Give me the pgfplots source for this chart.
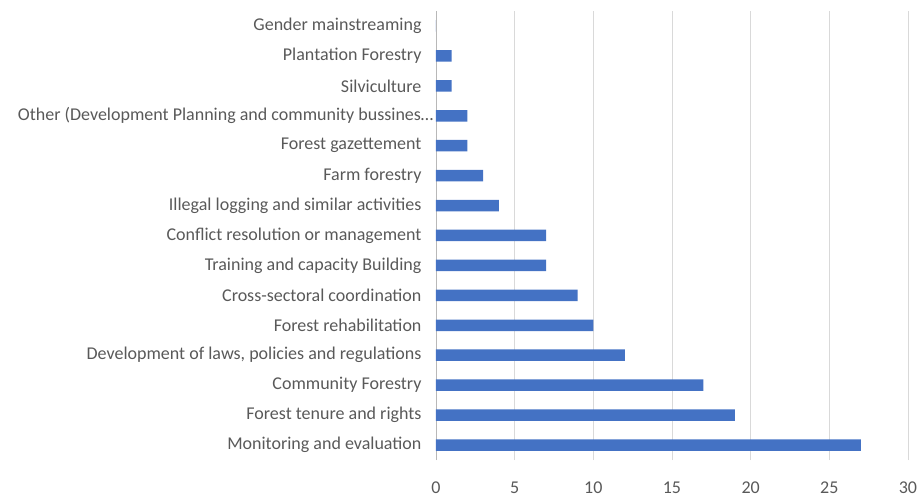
\documentclass[border=0pt]{standalone}
\usepackage{pgfplots}
\pgfplotsset{compat=1.18}
\usepackage{fontspec}
\setmainfont{Carlito}
\definecolor{barblue}{HTML}{4472C4}
\definecolor{txt}{HTML}{595959}
\definecolor{gridc}{HTML}{D9D9D9}
\begin{document}
\begin{tikzpicture}
\begin{axis}[
  scale only axis,
  width=472bp, height=449bp,
  xmin=0, xmax=30, ymin=-0.5, ymax=14.5,
  xtick={0,5,...,30},
  ytick={0,...,14},
  yticklabels={
    Monitoring and evaluation,
    Forest tenure and rights,
    Community Forestry,
    {Development of laws, policies and regulations},
    Forest rehabilitation,
    Cross-sectoral coordination\ ,
    Training and capacity Building,
    Conflict resolution or management\ ,
    Illegal logging and similar activities,
    Farm forestry,
    Forest gazettement\ ,
    Other (Development Planning and community bussines…\hspace*{-12bp},
    Silviculture,
    Plantation Forestry,
    Gender mainstreaming\ },
  xbar, bar width=11.5bp,
  major tick length=0pt,
  xmajorgrids, grid style={gridc, line width=0.9bp},
  axis lines*=left,
  x axis line style={draw=none},
  y axis line style={draw=gridc!85!black, line width=0.9bp},
  tick label style={font=\fontsize{18bp}{21bp}\selectfont, text=txt},
  /pgf/number format/assume math mode=true,
  xticklabel style={anchor=base, yshift=-33bp},
  yticklabel style={xshift=-11bp},
  clip=false,
]
\addplot[fill=barblue, draw=none] coordinates {
  (27,0) (19,1) (17,2) (12,3) (10,4) (9,5) (7,6) (7,7) (4,8) (3,9) (2,10) (2,11) (1,12) (1,13) (0,14)
};
\coordinate (bl) at (rel axis cs:0,0);
\coordinate (tr) at (rel axis cs:1,1);
\end{axis}
\pgfresetboundingbox
\path (bl) ++(-436bp,-37bp) (tr) ++(12bp,11bp);
\end{tikzpicture}
\end{document}
